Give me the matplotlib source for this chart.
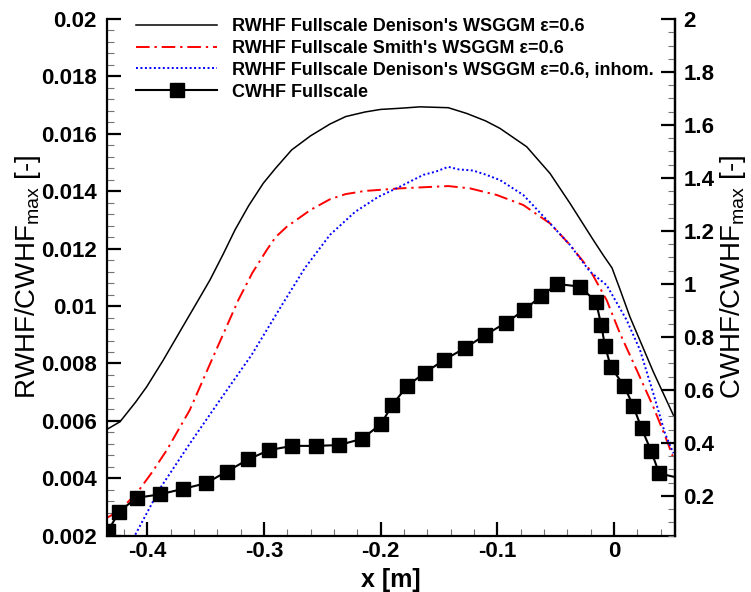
import matplotlib
matplotlib.use("Agg")
import matplotlib.pyplot as plt
from matplotlib.ticker import MultipleLocator, FuncFormatter

plt.rcParams['font.family'] = ['Liberation Sans', 'DejaVu Sans']
plt.rcParams['mathtext.default'] = 'regular'

# RWHF, Denison's WSGGM, eps = 0.6 (left axis)
den_x = [-0.4347, -0.4233, -0.4100, -0.4004, -0.3862, -0.3700, -0.3562, -0.3462,
         -0.3350, -0.3248, -0.3130, -0.3005, -0.2900, -0.2762, -0.2600, -0.2434,
         -0.2300, -0.2134, -0.2000, -0.1834, -0.1662, -0.1420, -0.1262, -0.1100,
         -0.0977, -0.0748, -0.0548, -0.0377, -0.0177, -0.0090, -0.0017, 0.0050,
         0.0137, 0.0337, 0.0509]
den_y = [0.00570, 0.00597, 0.00665, 0.00719, 0.00812, 0.00925, 0.01021, 0.01091,
         0.01180, 0.01265, 0.01350, 0.01428, 0.01480, 0.01544, 0.01593, 0.01634,
         0.01660, 0.01676, 0.01685, 0.01689, 0.01694, 0.01691, 0.01671, 0.01645,
         0.01619, 0.01555, 0.01462, 0.01358, 0.01230, 0.01176, 0.01133, 0.01060,
         0.00962, 0.00771, 0.00620]

# RWHF, Smith's WSGGM, eps = 0.6 (left axis)
smith_x = [-0.4347, -0.4242, -0.4088, -0.3960, -0.3831, -0.3635, -0.3447, -0.3219,
           -0.3100, -0.2976, -0.2900, -0.2805, -0.2600, -0.2434, -0.2300, -0.2134,
           -0.1834, -0.1420, -0.1234, -0.1005, -0.0777, -0.0548, -0.0377, -0.0206,
           -0.0063, 0.0051, 0.0195, 0.0337, 0.0452, 0.0509]
smith_y = [0.00262, 0.00286, 0.00349, 0.00420, 0.00499, 0.00638, 0.00812, 0.01021,
           0.01115, 0.01195, 0.01240, 0.01276, 0.01335, 0.01372, 0.01390, 0.01401,
           0.01410, 0.01418, 0.01410, 0.01387, 0.01352, 0.01288, 0.01213, 0.01126,
           0.01021, 0.00905, 0.00777, 0.00649, 0.00533, 0.00470]

# RWHF, Denison's WSGGM, eps = 0.6, inhomogeneous (left axis)
inhom_x = [-0.4120, -0.3890, -0.3633, -0.3376, -0.3105, -0.2845, -0.2648, -0.2434,
           -0.2219, -0.2022, -0.1834, -0.1634, -0.1530, -0.1420, -0.1330, -0.1206,
           -0.1100, -0.0977, -0.0777, -0.0548, -0.0377, -0.0206, -0.0063, 0.0109,
           0.0223, 0.0337, 0.0437, 0.0509]
inhom_y = [0.00190, 0.00365, 0.00522, 0.00673, 0.00830, 0.01004, 0.01133, 0.01248,
           0.01328, 0.01380, 0.01416, 0.01457, 0.01468, 0.01485, 0.01476, 0.01472,
           0.01458, 0.01439, 0.01387, 0.01288, 0.01213, 0.01120, 0.01073, 0.00951,
           0.00847, 0.00696, 0.00557, 0.00487]

# CWHF, full scale (right axis)
cwhf_x = [-0.4334, -0.4240, -0.4091, -0.3891, -0.3691, -0.3496, -0.3319, -0.3134,
          -0.2956, -0.2757, -0.2556, -0.2356, -0.2157, -0.1996, -0.1900, -0.1771,
          -0.1620, -0.1457, -0.1277, -0.1105, -0.0925, -0.0767, -0.0624, -0.0484,
          -0.0291, -0.0154, -0.0109, -0.0077, -0.0026, 0.0088, 0.0165, 0.0237,
          0.0317, 0.0388, 0.0506]
cwhf_y = [0.069, 0.141, 0.193, 0.206, 0.227, 0.248, 0.292, 0.338,
          0.373, 0.389, 0.389, 0.392, 0.416, 0.472, 0.543, 0.616,
          0.665, 0.713, 0.758, 0.807, 0.854, 0.902, 0.955, 1.0,
          0.99, 0.933, 0.845, 0.766, 0.686, 0.615, 0.539, 0.455,
          0.371, 0.285, 0.273]

labels = ["RWHF Fullscale Denison's WSGGM \u03b5=0.6",
          "RWHF Fullscale Smith's WSGGM \u03b5=0.6",
          "RWHF Fullscale Denison's WSGGM \u03b5=0.6, inhom.",
          "CWHF Fullscale"]

fig = plt.figure(figsize=(7.51, 5.92), dpi=100)
ax = fig.add_axes([0.1421, 0.0951, 0.7567, 0.8728])
ax2 = ax.twinx()

l1, = ax.plot(den_x, den_y, color='black', lw=1.1)
l2, = ax.plot(smith_x, smith_y, color='red', lw=1.4, linestyle=(0, (7, 2.5, 1.2, 2.5)))
l3, = ax.plot(inhom_x, inhom_y, color='blue', lw=1.4, linestyle=(0, (1, 1.3)))
l4, = ax2.plot(cwhf_x, cwhf_y, color='black', lw=1.5, marker='s', markersize=9.5,
               markevery=list(range(len(cwhf_x) - 1)))

ax.set_xlim(-0.4347, 0.0523)
ax.set_ylim(0.002, 0.02)
ax2.set_ylim(0.05, 2.0)

fmt = FuncFormatter(lambda v, p: '%g' % round(v, 6))
ax.xaxis.set_major_locator(MultipleLocator(0.1))
ax.xaxis.set_minor_locator(MultipleLocator(0.02))
ax.yaxis.set_major_locator(MultipleLocator(0.002))
ax.yaxis.set_minor_locator(MultipleLocator(0.0004))
ax2.yaxis.set_major_locator(MultipleLocator(0.2))
ax2.yaxis.set_minor_locator(MultipleLocator(0.05))
ax.xaxis.set_major_formatter(fmt)
ax.yaxis.set_major_formatter(fmt)
ax2.yaxis.set_major_formatter(fmt)

for a in (ax, ax2):
    a.spines['top'].set_visible(False)
    for s in a.spines.values():
        s.set_linewidth(1.6)
ax2.spines['left'].set_visible(False)
ax2.spines['bottom'].set_visible(False)

ax.tick_params(axis='both', which='major', direction='in', length=10, width=1.6,
               labelsize=16)
ax.tick_params(axis='both', which='minor', direction='in', length=5, width=0.8,
               color='0.45')
ax.tick_params(axis='x', pad=4)
ax.tick_params(axis='y', pad=7)
ax2.tick_params(axis='y', which='major', direction='in', length=10, width=1.6,
                labelsize=16, pad=6)
ax2.tick_params(axis='y', which='minor', direction='in', length=5, width=0.8,
                color='0.45')
for t in ax.get_xticklabels() + ax.get_yticklabels() + ax2.get_yticklabels():
    t.set_fontweight('bold')

ax.set_xlabel('x [m]', fontsize=18, fontweight='bold', labelpad=4)
ax.set_ylabel('RWHF/CWHF$_{max}$ [-]', fontsize=20)
ax2.set_ylabel('CWHF/CWHF$_{max}$ [-]', fontsize=20)
ax.yaxis.set_label_coords(-0.113, 0.5)
ax2.yaxis.set_label_coords(1.0755, 0.5)

leg = ax2.legend([l1, l2, l3, l4], labels, loc='upper left',
                 bbox_to_anchor=(136 / 751, 1 - 18 / 592),
                 bbox_transform=fig.transFigure, frameon=False,
                 prop={'weight': 'bold', 'size': 13}, handlelength=4.5,
                 handletextpad=0.8, labelspacing=0.27, borderpad=0,
                 borderaxespad=0, numpoints=1)

fig.savefig('out.png', dpi=100)
